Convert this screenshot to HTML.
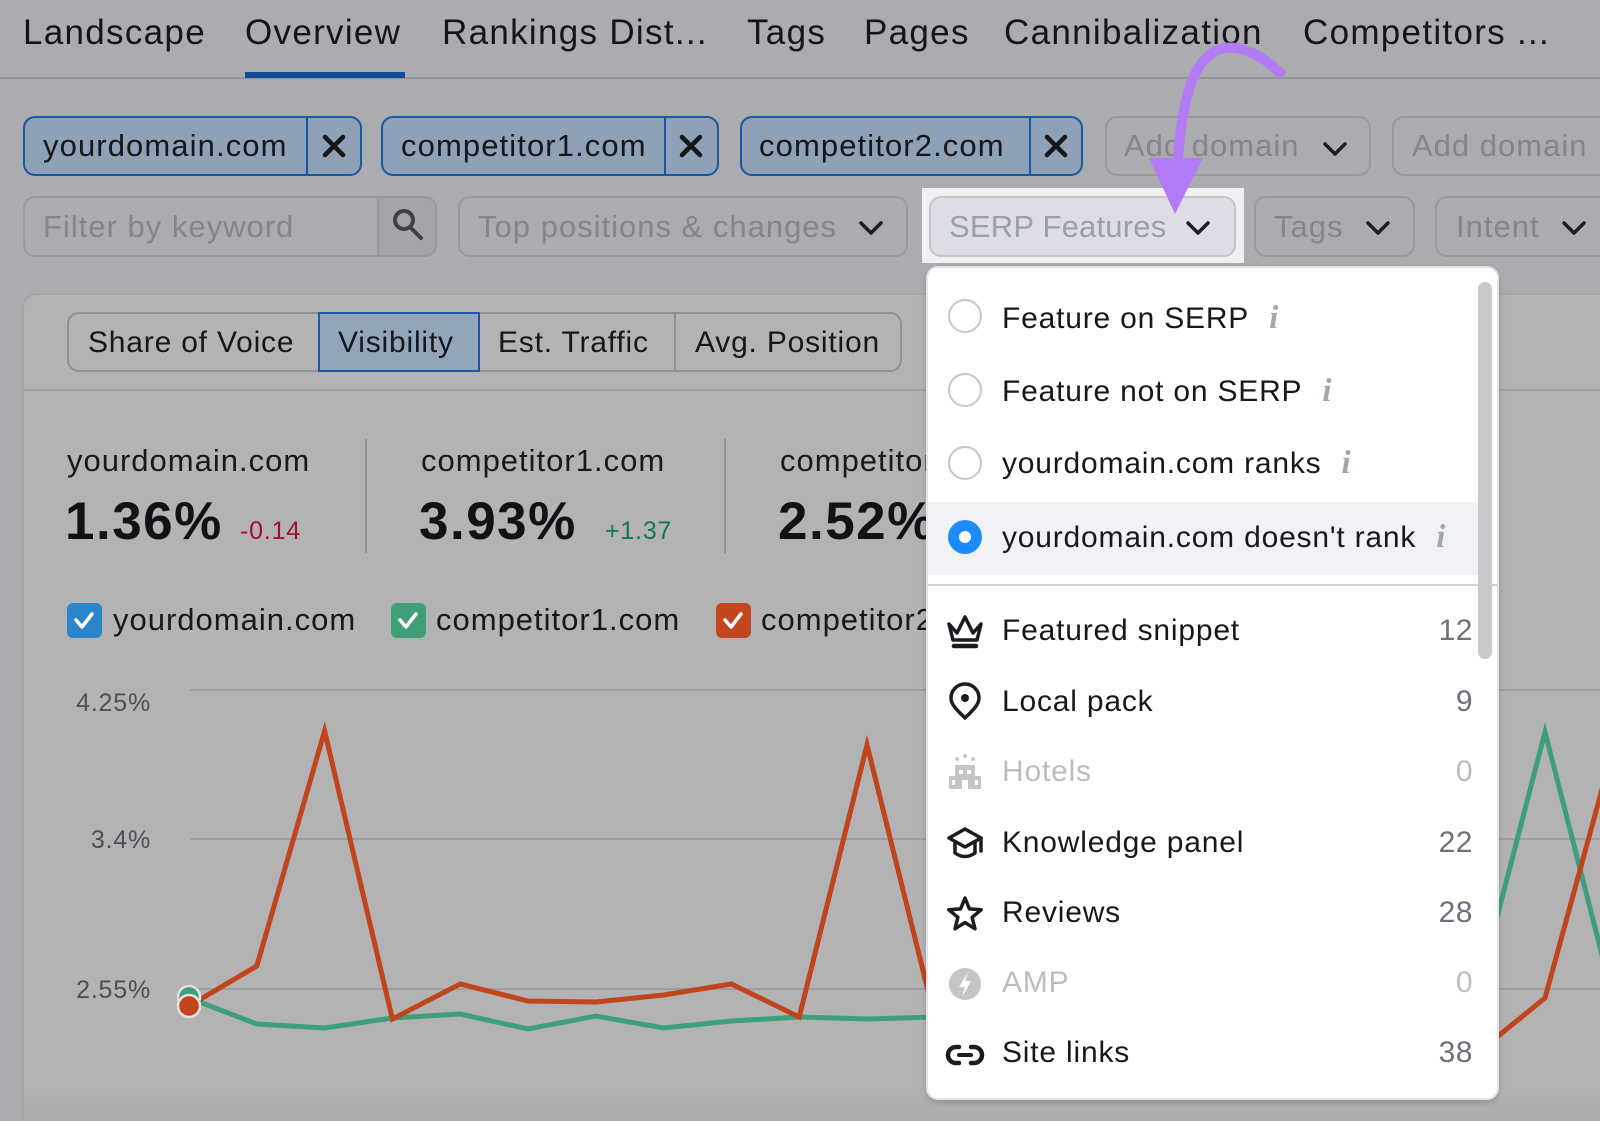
<!DOCTYPE html>
<html><head><meta charset="utf-8">
<style>
*{margin:0;padding:0;box-sizing:border-box}
html,body{width:1600px;height:1121px;overflow:hidden}
body{background:#abacaf;font-family:"Liberation Sans",Arial,sans-serif;color:#17181c;position:relative}
.a{position:absolute;white-space:nowrap;line-height:1}
.tab{font-size:35px;letter-spacing:1.3px;top:15px;color:#141519}
.chip{position:absolute;top:116px;height:60px;border:2px solid #1b57a2;border-radius:12px;background:#8ea1b6}
.chip .d{position:absolute;top:0;bottom:0;width:2px;background:#1b57a2}
.ct{font-size:31px;letter-spacing:1.1px;top:130px;color:#15161a}
.btn{position:absolute;top:196px;height:61px;border:2px solid #98999d;border-radius:12px}
.ph{font-size:31px;letter-spacing:1px;top:211px;color:#85868b}
.seg{font-size:30px;letter-spacing:.8px;top:328px;color:#16171b}
.lab{font-size:31px;letter-spacing:1px;top:445px;color:#18191d}
.big{font-size:53px;font-weight:bold;letter-spacing:1.5px;top:495px;color:#111216}
.chg{font-size:25px;letter-spacing:.8px;top:519px}
.cb{position:absolute;top:603px;width:35px;height:35px;border-radius:6px}
.lg{font-size:31px;letter-spacing:1px;top:604px;color:#17181c}
.yl{font-size:25px;letter-spacing:.8px;color:#4c4f58;right:1449px;text-align:right}
.dd{position:absolute;left:928px;top:268px;width:569px;height:830px;background:#fff;border-radius:10px;box-shadow:0 0 0 2px #e3e4e7,0 3px 8px rgba(0,0,0,.28);z-index:6;overflow:hidden}
.it{position:absolute;left:74px;font-size:30px;letter-spacing:.8px;line-height:1;white-space:nowrap;color:#17181c}
.it .i{font-family:"Liberation Serif",serif;font-style:italic;font-weight:bold;font-size:33px;color:#a3a5ad;margin-left:20px;letter-spacing:0}
.cn{position:absolute;right:24px;font-size:30px;letter-spacing:.5px;line-height:1;color:#6e717b}
.rd{position:absolute;left:20px;width:34px;height:34px;border-radius:50%;border:2px solid #c5c6cb;background:#fff}
.dis{color:#bdbdc0}
</style></head><body>

<!-- Tabs -->
<div class="a tab" style="left:23px">Landscape</div>
<div class="a tab" style="left:245px">Overview</div>
<div class="a tab" style="left:442px">Rankings Dist...</div>
<div class="a tab" style="left:747px">Tags</div>
<div class="a tab" style="left:864px">Pages</div>
<div class="a tab" style="left:1004px">Cannibalization</div>
<div class="a tab" style="left:1303px">Competitors ...</div>
<div style="position:absolute;left:0;top:77px;width:1600px;height:2px;background:#949599"></div>
<div style="position:absolute;left:245px;top:72px;width:160px;height:6px;background:#0e4d96"></div>

<!-- Domain chips -->
<div class="chip" style="left:23px;width:339px"><div class="d" style="left:281px"></div></div>
<div class="a ct" style="left:43px">yourdomain.com</div>
<div class="chip" style="left:381px;width:338px"><div class="d" style="left:281px"></div></div>
<div class="a ct" style="left:401px">competitor1.com</div>
<div class="chip" style="left:740px;width:343px"><div class="d" style="left:287px"></div></div>
<div class="a ct" style="left:759px">competitor2.com</div>
<div class="btn" style="left:1105px;width:266px;top:116px;height:60px"></div>
<div class="a ph" style="left:1124px;top:130px">Add domain</div>
<div class="btn" style="left:1392px;width:260px;top:116px;height:60px"></div>
<div class="a ph" style="left:1412px;top:130px">Add domain</div>

<!-- Filter row -->
<div class="btn" style="left:23px;width:414px;overflow:hidden"><div style="position:absolute;left:352px;top:0;bottom:0;right:0;background:#a4a5a8;border-left:2px solid #98999d"></div></div>
<div class="a ph" style="left:43px">Filter by keyword</div>
<div class="btn" style="left:458px;width:450px"></div>
<div class="a ph" style="left:478px">Top positions &amp; changes</div>
<div class="btn" style="left:1254px;width:161px"></div>
<div class="a ph" style="left:1274px">Tags</div>
<div class="btn" style="left:1435px;width:220px"></div>
<div class="a ph" style="left:1456px">Intent</div>

<!-- Card -->
<div style="position:absolute;left:22px;top:293px;width:1620px;height:860px;background:#b3b3b3;border:2px solid #a4a5a8;border-radius:14px 0 0 0"></div>
<div style="position:absolute;left:24px;top:1092px;width:1600px;height:29px;background:linear-gradient(#b3b3b3,#ababac)"></div>
<div style="position:absolute;left:22px;top:389px;width:1600px;height:2px;background:#a1a2a5"></div>

<!-- Segmented -->
<div style="position:absolute;left:67px;top:312px;width:835px;height:60px;border:2px solid #8f9094;border-radius:12px"></div>
<div style="position:absolute;left:318px;top:312px;width:162px;height:60px;background:#93a5b8;border:2px solid #1b57a2"></div>
<div style="position:absolute;left:674px;top:312px;width:2px;height:60px;background:#8f9094"></div>
<div class="a seg" style="left:88px">Share of Voice</div>
<div class="a seg" style="left:338px">Visibility</div>
<div class="a seg" style="left:498px">Est. Traffic</div>
<div class="a seg" style="left:695px">Avg. Position</div>

<!-- Stats -->
<div class="a lab" style="left:67px">yourdomain.com</div>
<div class="a big" style="left:65px">1.36%</div>
<div class="a chg" style="left:240px;color:#a3102b">-0.14</div>
<div style="position:absolute;left:365px;top:439px;width:2px;height:114px;background:#8f9094"></div>
<div class="a lab" style="left:421px">competitor1.com</div>
<div class="a big" style="left:419px">3.93%</div>
<div class="a chg" style="left:605px;color:#14784e">+1.37</div>
<div style="position:absolute;left:724px;top:439px;width:2px;height:114px;background:#8f9094"></div>
<div class="a lab" style="left:780px">competitor2.com</div>
<div class="a big" style="left:778px">2.52%</div>

<!-- Legend -->
<div class="cb" style="left:67px;background:#2a86c8"></div>
<div class="a lg" style="left:113px">yourdomain.com</div>
<div class="cb" style="left:391px;background:#3f9f77"></div>
<div class="a lg" style="left:436px">competitor1.com</div>
<div class="cb" style="left:716px;background:#c3461f"></div>
<div class="a lg" style="left:761px">competitor2.com</div>

<!-- Y labels -->
<div class="a yl" style="top:691px">4.25%</div>
<div class="a yl" style="top:828px">3.4%</div>
<div class="a yl" style="top:978px">2.55%</div>

<!-- Base icons + chart -->
<svg style="position:absolute;left:0;top:0;z-index:2" width="1600" height="1121" viewBox="0 0 1600 1121">
  <g stroke="#15161a" stroke-width="4.5" stroke-linecap="round">
    <path d="M325 137 L343 155 M343 137 L325 155"/>
    <path d="M682 137 L700 155 M700 137 L682 155"/>
    <path d="M1047 137 L1065 155 M1065 137 L1047 155"/>
  </g>
  <g fill="none" stroke="#3d3f45" stroke-width="4" stroke-linecap="round">
    <circle cx="404" cy="220" r="9"/>
    <path d="M411 228 L421 238"/>
  </g>
  <g fill="none" stroke="#1c1d22" stroke-width="3.5" stroke-linecap="round" stroke-linejoin="round">
    <polyline points="1325,144 1335,154 1345,144"/>
    <polyline points="861,223 871,233 881,223"/>
    <polyline points="1368,223 1378,233 1388,223"/>
    <polyline points="1564,223 1574,233 1584,223"/>
  </g>
  <g fill="none" stroke="#fff" stroke-width="3.5" stroke-linecap="round" stroke-linejoin="round">
    <polyline points="76,620 82,627 92,614"/>
    <polyline points="400,620 406,627 416,614"/>
    <polyline points="725,620 731,627 741,614"/>
  </g>
  <g stroke="#9d9ea1" stroke-width="2">
    <line x1="190" y1="690" x2="1600" y2="690"/>
    <line x1="190" y1="839" x2="1600" y2="839"/>
    <line x1="190" y1="989" x2="1600" y2="989"/>
  </g>
  <polyline fill="none" stroke="#3ea07a" stroke-width="5" stroke-linejoin="miter" stroke-miterlimit="10"
    points="189,998 256.8,1024 324.6,1028 392.4,1018 460.2,1014 528,1029 595.8,1016 663.6,1028 731.4,1021 799.2,1017 867,1019 934.8,1017 1002.6,1015 1070.4,1018 1138.2,1016 1206,1014 1273.8,1017 1341.6,1010 1409.4,1005 1477.2,994 1545,732 1612.8,997"/>
  <polyline fill="none" stroke="#c0441c" stroke-width="5" stroke-linejoin="miter" stroke-miterlimit="10"
    points="189,1006 256.8,966 324.6,731 392.4,1019 460.2,984 528,1001 595.8,1002 663.6,995 731.4,984 799.2,1017 867,745 934.8,1018 1002.6,1000 1070.4,995 1138.2,1005 1206,990 1273.8,1000 1341.6,1010 1409.4,1020 1477.2,1053 1545,998 1612.8,750"/>
  <circle cx="189" cy="997" r="11" fill="#3ea07a" stroke="#e2e2e2" stroke-width="2.5"/>
  <circle cx="189" cy="1006" r="11" fill="#c0441c" stroke="#e2e2e2" stroke-width="2.5"/>
</svg>

<!-- SERP Features highlight -->
<div style="position:absolute;left:922px;top:188px;width:322px;height:75px;background:#f0f0f3;z-index:3">
  <div style="position:absolute;left:7px;top:8px;width:307px;height:61px;background:#dddee5;border:2px solid #c4c5cb;border-radius:12px"></div>
  <div class="a" style="left:27px;top:23px;font-size:31px;letter-spacing:.2px;color:#9d9fa8">SERP Features</div>
  <svg style="position:absolute;left:0;top:0" width="322" height="75"><polyline points="266,35 276,45 286,35" fill="none" stroke="#1c1d22" stroke-width="3.5" stroke-linecap="round" stroke-linejoin="round"/></svg>
</div>

<!-- Dropdown -->
<div class="dd">
  <div style="position:absolute;left:0;top:234px;width:551px;height:73px;background:#f1f2f6"></div>
  <div style="position:absolute;left:0;top:316px;width:569px;height:2px;background:#d1d2d7"></div>
  <div style="position:absolute;left:550px;top:14px;width:14px;height:377px;border-radius:7px;background:#c9c9cb"></div>

  <div class="rd" style="top:31px"></div>
  <div class="rd" style="top:105px"></div>
  <div class="rd" style="top:178px"></div>
  <div class="rd" style="top:252px;border:none;background:#1a8cff"><div style="position:absolute;left:11px;top:11px;width:12px;height:12px;border-radius:50%;background:#fff"></div></div>

  <div class="it" style="top:34px">Feature on SERP<span class="i">i</span></div>
  <div class="it" style="top:107px">Feature not on SERP<span class="i">i</span></div>
  <div class="it" style="top:179px">yourdomain.com ranks<span class="i">i</span></div>
  <div class="it" style="top:253px">yourdomain.com doesn't rank<span class="i">i</span></div>

  <div class="it" style="top:348px">Featured snippet</div>
  <div class="it" style="top:419px">Local pack</div>
  <div class="it dis" style="top:489px">Hotels</div>
  <div class="it" style="top:560px">Knowledge panel</div>
  <div class="it" style="top:630px">Reviews</div>
  <div class="it dis" style="top:700px">AMP</div>
  <div class="it" style="top:770px">Site links</div>

  <div class="cn" style="top:348px">12</div>
  <div class="cn" style="top:419px">9</div>
  <div class="cn dis" style="top:489px">0</div>
  <div class="cn" style="top:560px">22</div>
  <div class="cn" style="top:630px">28</div>
  <div class="cn dis" style="top:700px">0</div>
  <div class="cn" style="top:770px">38</div>

  <svg style="position:absolute;left:0;top:0" width="569" height="830">
    <g fill="none" stroke="#1b1c21" stroke-width="3.5" stroke-linejoin="round" stroke-linecap="round">
      <path d="M21 356 L29 365 L37 349 L45 365 L53 356 L49 372 L25 372 Z"/>
      <path d="M26 378 L48 378" stroke-width="4.5"/>
      <path d="M37 450 C30 443 23 437 23 430 A14 14 0 0 1 51 430 C51 437 44 443 37 450 Z"/>
      <path d="M21 570 L37 561 L53 570 L37 579 Z"/>
      <path d="M27 575 L27 585 Q37 592 47 585 L47 575"/>
      <path d="M53 570 L53 583"/>
      <path d="M37 630 L41.4 640.9 L53.2 641.8 L44.1 649.3 L47 660.8 L37 654.5 L27 660.8 L29.9 649.3 L20.8 641.8 L32.6 640.9 Z"/>
      <path d="M31 779 L28 779 A8 8 0 0 0 28 795 L31 795" stroke-width="4.5"/>
      <path d="M43 779 L46 779 A8 8 0 0 1 46 795 L43 795" stroke-width="4.5"/>
      <path d="M31 787 L43 787" stroke-width="4"/>
    </g>
    <circle cx="37" cy="430" r="4" fill="#1b1c21"/>
    <g fill="#c5c5c7">
      <circle cx="29" cy="491" r="2"/><circle cx="37" cy="488" r="2"/><circle cx="45" cy="491" r="2"/>
      <rect x="27" y="497" width="20" height="24" rx="1"/>
      <rect x="21" y="508" width="32" height="13" rx="1"/>
      <circle cx="37" cy="716" r="16"/>
    </g>
    <g fill="#fff">
      <rect x="31" y="502" width="4" height="4"/><rect x="39" y="502" width="4" height="4"/>
      <rect x="34" y="512" width="6" height="9"/>
      <rect x="24" y="512" width="3" height="5"/><rect x="47" y="512" width="3" height="5"/>
      <path d="M40 704 L31 719 L37 719 L34 729 L43 713 L37 713 Z"/>
    </g>
  </svg>
</div>

<!-- Purple arrow -->
<svg style="position:absolute;left:0;top:0;z-index:8" width="1600" height="1121" viewBox="0 0 1600 1121">
  <path d="M1283 76 C1264 56 1242 45 1224 48 C1196 54 1182 92 1178 162" fill="none" stroke="#b47bf6" stroke-width="10"/>
  <polygon points="1149,158 1203,158 1175,214" fill="#b47bf6"/>
</svg>
</body></html>
